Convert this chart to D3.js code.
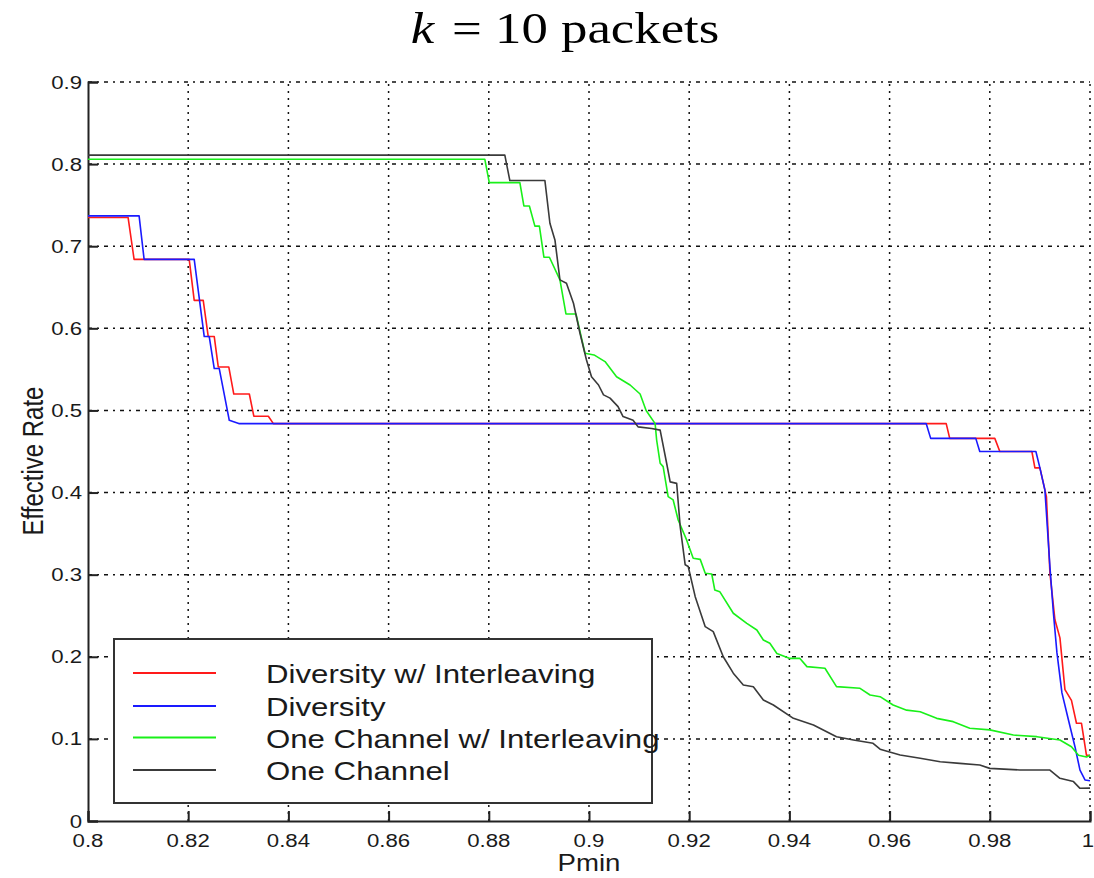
<!DOCTYPE html>
<html>
<head>
<meta charset="utf-8">
<script src="https://cdn.jsdelivr.net/npm/d3@7"></script>
<style>
  html, body { margin: 0; padding: 0; background: #fff; }
  svg { display: block; }
</style>
</head>
<body>
<svg id="chart" width="1094" height="878"></svg>
<script>
// ---- Data (Pmin, Effective Rate) ----
const seriesNames = ["Diversity w/ Interleaving", "Diversity", "One Channel w/ Interleaving", "One Channel"];
const seriesColors = ["#ff1a1a", "#1a1aff", "#19f019", "#3a3a3a"];

const diversityInterleaving = [
  [0.8,0.735],[0.808,0.735],[0.8092,0.684],[0.8202,0.684],[0.8212,0.634],[0.823,0.634],
  [0.824,0.590],[0.8252,0.590],[0.826,0.553],[0.8281,0.553],[0.8291,0.520],[0.8322,0.520],
  [0.8331,0.493],[0.836,0.493],[0.837,0.484],[0.9713,0.484],[0.972,0.466],[0.981,0.466],
  [0.982,0.450],[0.9884,0.450],[0.989,0.430],[0.990,0.430],[0.9913,0.395],[0.992,0.302],
  [0.993,0.245],[0.994,0.223],[0.995,0.160],[0.9963,0.147],[0.9973,0.119],[0.9983,0.119],
  [0.9993,0.080],[1.0,0.080]
];
const diversity = [
  [0.8,0.737],[0.8102,0.737],[0.8112,0.684],[0.8212,0.684],[0.8232,0.590],[0.8242,0.590],
  [0.8252,0.551],[0.8262,0.551],[0.8282,0.488],[0.8301,0.484],[0.9673,0.484],[0.9682,0.466],
  [0.9772,0.466],[0.978,0.450],[0.9892,0.450],[0.990,0.430],[0.991,0.403],[0.992,0.31],
  [0.9927,0.253],[0.9934,0.205],[0.9944,0.156],[0.9957,0.123],[0.997,0.0905],[0.998,0.062],
  [0.999,0.050],[1.0,0.049]
];
const oneChannelInterleaving = [
  [0.8,0.806],[0.8792,0.806],[0.8801,0.7775],[0.8862,0.7775],[0.887,0.749],[0.8881,0.749],
  [0.8892,0.7245],[0.8901,0.7245],[0.891,0.6866],[0.8921,0.6866],[0.8942,0.659],[0.8954,0.6175],
  [0.8974,0.6175],[0.8992,0.5697],[0.901,0.5676],[0.9032,0.5595],[0.9055,0.541],[0.9082,0.531],
  [0.9102,0.52],[0.9114,0.50],[0.9132,0.484],[0.9135,0.464],[0.9142,0.4357],[0.9148,0.4316],
  [0.9158,0.395],[0.9168,0.391],[0.9178,0.3666],[0.9195,0.342],[0.9208,0.32],[0.9222,0.3186],
  [0.9232,0.3017],[0.9245,0.3008],[0.9251,0.2814],[0.9261,0.2793],[0.9288,0.253],[0.9315,0.2407],
  [0.9335,0.2326],[0.9348,0.2205],[0.9361,0.2164],[0.9375,0.204],[0.9401,0.198],[0.9421,0.198],
  [0.9435,0.188],[0.9471,0.186],[0.9494,0.1636],[0.9541,0.1616],[0.9561,0.1535],[0.9581,0.1514],
  [0.9607,0.1413],[0.9634,0.135],[0.9661,0.1331],[0.9694,0.125],[0.9727,0.121],[0.976,0.113],
  [0.98,0.111],[0.9847,0.1047],[0.9894,0.1027],[0.994,0.0987],[0.9963,0.0905],[0.9977,0.080],
  [0.9993,0.078],[1.0,0.080]
];
const oneChannel = [
  [0.8,0.811],[0.8832,0.811],[0.8842,0.780],[0.8912,0.780],[0.8922,0.728],[0.8932,0.7077],
  [0.8942,0.659],[0.8955,0.655],[0.8969,0.6305],[0.8982,0.594],[0.8995,0.5615],[0.9005,0.541],
  [0.9019,0.531],[0.9029,0.519],[0.9042,0.515],[0.9058,0.5046],[0.9068,0.4925],[0.9088,0.488],
  [0.9098,0.480],[0.9125,0.478],[0.9142,0.476],[0.9155,0.4357],[0.9162,0.413],[0.9175,0.4112],
  [0.9182,0.3585],[0.9192,0.312],[0.9198,0.31],[0.9212,0.2732],[0.9232,0.2367],[0.9248,0.2306],
  [0.9268,0.2],[0.9288,0.18],[0.9308,0.1657],[0.9328,0.1636],[0.9348,0.1474],[0.9368,0.1413],
  [0.9408,0.125],[0.9448,0.117],[0.9494,0.1027],[0.9528,0.0987],[0.9567,0.0946],[0.9581,0.0875],
  [0.9621,0.0804],[0.9661,0.0764],[0.9701,0.0722],[0.974,0.0702],[0.978,0.0682],[0.98,0.0641],
  [0.986,0.0621],[0.992,0.0621],[0.994,0.052],[0.9967,0.048],[0.998,0.0398],[1.0,0.040]
];
const allSeries = [diversityInterleaving, diversity, oneChannelInterleaving, oneChannel];

const xTicks = [0.8,0.82,0.84,0.86,0.88,0.9,0.92,0.94,0.96,0.98,1.0];
const xTickLabels = ["0.8","0.82","0.84","0.86","0.88","0.9","0.92","0.94","0.96","0.98","1"];
const yTicks = [0,0.1,0.2,0.3,0.4,0.5,0.6,0.7,0.8,0.9];
const yTickLabels = ["0","0.1","0.2","0.3","0.4","0.5","0.6","0.7","0.8","0.9"];

// ---- Layout ----
const svg = d3.select("#chart");
const SX = 1.2; // horizontal text stretch seen in the reference
const x = d3.scaleLinear().domain([0.8, 1.0]).range([88, 1090]);
const y = d3.scaleLinear().domain([0, 0.9]).range([821, 82]);
const font = "'Liberation Sans', Arial, sans-serif";

function stretchedText(g, tx, ty, str, size, anchor) {
  return g.append("text")
    .attr("transform", `translate(${tx},${ty}) scale(${SX},1)`)
    .attr("text-anchor", anchor)
    .attr("font-family", font)
    .attr("font-size", size)
    .attr("fill", "#1a1a1a")
    .text(str);
}

// Grid
const grid = svg.append("g");
grid.selectAll("line.h").data(yTicks.filter(d => d > 0)).join("line")
  .attr("x1", x(0.8)).attr("x2", x(1.0))
  .attr("y1", d => y(d)).attr("y2", d => y(d))
  .attr("stroke", "#111").attr("stroke-width", 1.5)
  .attr("stroke-dasharray", "4,5,2,5");
grid.selectAll("line.v").data(xTicks.filter(d => d > 0.8)).join("line")
  .attr("y1", y(0)).attr("y2", y(0.9))
  .attr("x1", d => x(d)).attr("x2", d => x(d))
  .attr("stroke", "#111").attr("stroke-width", 1.5)
  .attr("stroke-dasharray", "2,5");

// Axes (left and bottom), inward ticks
const xAxis = d3.axisBottom(x).tickValues(xTicks).tickSize(-10).tickFormat("");
const yAxis = d3.axisLeft(y).tickValues(yTicks).tickSize(-10).tickFormat("");
const gx = svg.append("g").attr("transform", `translate(0,${y(0)})`).call(xAxis);
const gy = svg.append("g").attr("transform", `translate(${x(0.8)},0)`).call(yAxis);
[gx, gy].forEach(g => {
  g.select(".domain").attr("stroke", "#222").attr("stroke-width", 2);
  g.selectAll(".tick line").attr("stroke", "#222").attr("stroke-width", 2);
});

// Tick labels
const labels = svg.append("g");
xTicks.forEach((d, i) => {
  const last = i === xTicks.length - 1;
  stretchedText(labels, last ? x(d) - 2 : x(d), 847, xTickLabels[i], 18.5, "middle");
});
yTicks.forEach((d, i) => stretchedText(labels, 82, y(d) + 6.5, yTickLabels[i], 18.5, "end"));

// Axis titles
stretchedText(svg, 589, 871, "Pmin", 23, "middle");
svg.append("text")
  .attr("transform", `translate(43,461) scale(${SX},1) rotate(-90)`)
  .attr("text-anchor", "middle")
  .attr("font-family", font).attr("font-size", 24).attr("fill", "#1a1a1a")
  .text("Effective Rate");

// Title
const title = svg.append("text")
  .attr("transform", `translate(565,43) scale(${SX},1)`)
  .attr("text-anchor", "middle")
  .attr("font-family", "'Liberation Serif', 'Times New Roman', serif")
  .attr("font-size", 44).attr("fill", "#000");
title.append("tspan").attr("font-style", "italic").text("k");
title.append("tspan").text(" = 10 packets").attr("dx", 4);

// Series lines
const line = d3.line().x(d => x(d[0])).y(d => y(d[1]));
svg.append("g").selectAll("path").data(allSeries).join("path")
  .attr("d", line)
  .attr("fill", "none")
  .attr("stroke", (d, i) => seriesColors[i])
  .attr("stroke-width", 1.6)
  .attr("stroke-linejoin", "round");

// Legend
const legend = svg.append("g");
legend.append("rect")
  .attr("x", 114).attr("y", 639).attr("width", 538).attr("height", 164)
  .attr("fill", "#fff").attr("stroke", "#333").attr("stroke-width", 2);
const rowY = [673, 706, 737.5, 770];
seriesNames.forEach((name, i) => {
  legend.append("line")
    .attr("x1", 133).attr("x2", 216).attr("y1", rowY[i]).attr("y2", rowY[i])
    .attr("stroke", seriesColors[i]).attr("stroke-width", 1.8);
  stretchedText(legend, 266, rowY[i] + 10, name, 26, "start");
});
</script>
</body>
</html>
